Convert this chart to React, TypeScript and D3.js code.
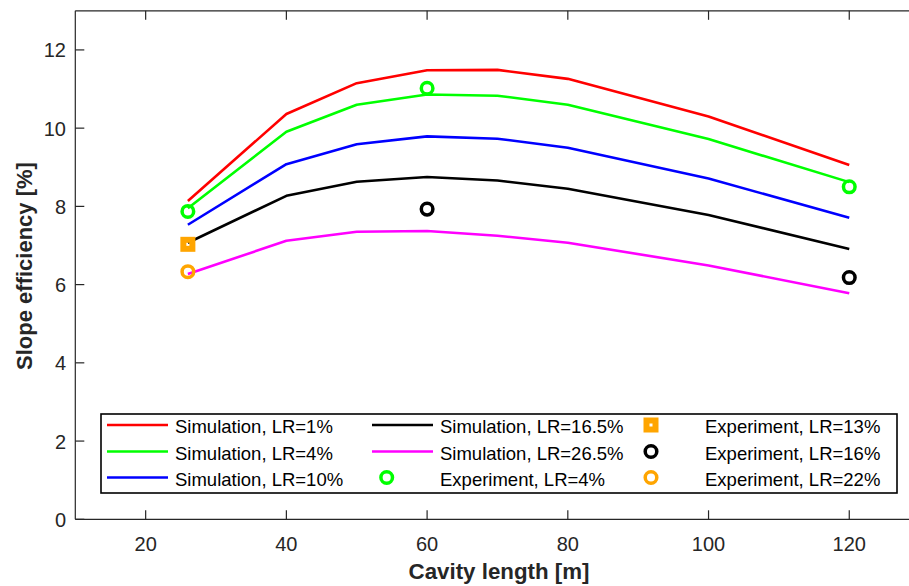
import React from "react";
import * as d3 from "d3";

// Cavity lengths [m] at which the simulation was evaluated
const cavityLengths = [26, 40, 50, 60, 70, 80, 100, 120];

// Simulated slope efficiency [%] for each output-coupler loss ratio
const simLR1 = [8.14, 10.36, 11.15, 11.48, 11.49, 11.26, 10.3, 9.06];
const simLR4 = [7.95, 9.91, 10.6, 10.86, 10.83, 10.6, 9.72, 8.62];
const simLR10 = [7.53, 9.08, 9.59, 9.79, 9.73, 9.5, 8.71, 7.71];
const simLR16_5 = [7.07, 8.27, 8.63, 8.75, 8.66, 8.45, 7.78, 6.91];
const simLR26_5 = [6.27, 7.12, 7.35, 7.37, 7.25, 7.07, 6.49, 5.78];

// Measured slope efficiency [%]
const expLR4X = [26, 60, 120];
const expLR4Y = [7.87, 11.02, 8.5];
const expLR13X = [26];
const expLR13Y = [7.03];
const expLR16X = [60, 120];
const expLR16Y = [7.93, 6.18];
const expLR22X = [26];
const expLR22Y = [6.33];

const xTicks = [20, 40, 60, 80, 100, 120];
const yTicks = [0, 2, 4, 6, 8, 10, 12];

const simSeries = [
  { label: "Simulation, LR=1%", color: "#ff0000", values: simLR1 },
  { label: "Simulation, LR=4%", color: "#00ff00", values: simLR4 },
  { label: "Simulation, LR=10%", color: "#0000ff", values: simLR10 },
  { label: "Simulation, LR=16.5%", color: "#000000", values: simLR16_5 },
  { label: "Simulation, LR=26.5%", color: "#ff00ff", values: simLR26_5 },
];

const expSeries = [
  { label: "Experiment, LR=4%", color: "#00ff00", shape: "circle", xs: expLR4X, ys: expLR4Y },
  { label: "Experiment, LR=13%", color: "#ffa500", shape: "square", xs: expLR13X, ys: expLR13Y },
  { label: "Experiment, LR=16%", color: "#000000", shape: "circle", xs: expLR16X, ys: expLR16Y },
  { label: "Experiment, LR=22%", color: "#ffa500", shape: "circle", xs: expLR22X, ys: expLR22Y },
];

const W = 909;
const H = 586;
const plot = { left: 75.3, top: 10.8, bottom: 519.3 };
const axisColor = "#262626";
const font = "'Liberation Sans', Arial, Helvetica, sans-serif";

function Marker({ shape, color, cx, cy }: { shape: string; color: string; cx: number; cy: number }) {
  if (shape === "square") {
    return <rect x={cx - 4.5} y={cy - 4.5} width={9} height={9} fill="none" stroke={color} strokeWidth={6} />;
  }
  return <circle cx={cx} cy={cy} r={5.8} fill="none" stroke={color} strokeWidth={3.5} />;
}

export default function App() {
  const x = d3.scaleLinear().domain([10, 130]).range([plot.left, plot.left + 120 * 7.036]);
  const y = d3.scaleLinear().domain([0, 13]).range([plot.bottom, plot.top]);
  const line = d3
    .line<number>()
    .x((_, i) => x(cavityLengths[i]))
    .y((d) => y(d));

  const tickLen = 9;
  const right = x(130);

  // Legend layout: three columns, three rows
  const legend = { x: 101, y: 414, w: 796, h: 79 };
  const rowY = [425, 451.5, 477.5];
  const legendItems = [
    ...simSeries.map((s) => ({ kind: "line", color: s.color, label: s.label, shape: "" })),
    ...expSeries.map((s) => ({ kind: "marker", color: s.color, label: s.label, shape: s.shape })),
  ];
  const cols = [
    { lineX0: 107, lineX1: 168, markerX: 0, textX: 175 },
    { lineX0: 372, lineX1: 433, markerX: 386.7, textX: 440 },
    { lineX0: 0, lineX1: 0, markerX: 651, textX: 705 },
  ];

  return (
    <svg
      width={W}
      height={H}
      style={{ position: "absolute", left: 0, top: 0, background: "#fff" }}
      fontFamily={font}
    >
      <rect x={0} y={0} width={W} height={H} fill="#fff" />

      {/* series */}
      {simSeries.map((s) => (
        <path
          key={s.label}
          d={line(s.values) || ""}
          fill="none"
          stroke={s.color}
          strokeWidth={2.6}
          strokeLinejoin="round"
        />
      ))}
      {expSeries.map((s) =>
        s.xs.map((xv, i) => (
          <Marker key={s.label + i} shape={s.shape} color={s.color} cx={x(xv)} cy={y(s.ys[i])} />
        ))
      )}

      {/* axes box */}
      <g stroke={axisColor} strokeWidth={1.2} fill="none">
        <line x1={plot.left} y1={plot.bottom} x2={right} y2={plot.bottom} />
        <line x1={plot.left} y1={plot.top} x2={right} y2={plot.top} />
        <line x1={plot.left} y1={plot.top} x2={plot.left} y2={plot.bottom} />
        <line x1={right} y1={plot.top} x2={right} y2={plot.bottom} />
        {xTicks.map((t) => (
          <g key={"xt" + t}>
            <line x1={x(t)} x2={x(t)} y1={plot.bottom} y2={plot.bottom - tickLen} />
            <line x1={x(t)} x2={x(t)} y1={plot.top} y2={plot.top + tickLen} />
          </g>
        ))}
        {yTicks.map((t) => (
          <line key={"yt" + t} x1={plot.left} x2={plot.left + tickLen} y1={y(t)} y2={y(t)} />
        ))}
      </g>

      {/* tick labels */}
      <g fill={axisColor} fontSize={20}>
        {xTicks.map((t) => (
          <text key={"xl" + t} x={x(t)} y={551} textAnchor="middle">
            {t}
          </text>
        ))}
        {yTicks.map((t) => (
          <text key={"yl" + t} x={66} y={y(t) + 7.5} textAnchor="end">
            {t}
          </text>
        ))}
      </g>

      {/* axis titles */}
      <text x={499} y={579} textAnchor="middle" fontSize={22.3} fontWeight="bold" fill={axisColor}>
        Cavity length [m]
      </text>
      <text
        transform={`translate(31.5, ${266}) rotate(-90)`}
        textAnchor="middle"
        fontSize={22}
        fontWeight="bold"
        fill={axisColor}
      >
        Slope efficiency [%]
      </text>

      {/* legend */}
      <rect
        x={legend.x}
        y={legend.y}
        width={legend.w}
        height={legend.h}
        fill="#fff"
        stroke="#000"
        strokeWidth={1.6}
      />
      {legendItems.map((item, idx) => {
        const col = cols[Math.floor(idx / 3)];
        const ry = rowY[idx % 3];
        return (
          <g key={"lg" + idx}>
            {item.kind === "line" ? (
              <line x1={col.lineX0} x2={col.lineX1} y1={ry} y2={ry} stroke={item.color} strokeWidth={2.6} />
            ) : (
              <Marker shape={item.shape} color={item.color} cx={col.markerX} cy={ry} />
            )}
            <text x={col.textX} y={ry + 8} fontSize={18.5} fill="#000">
              {item.label}
            </text>
          </g>
        );
      })}
    </svg>
  );
}
